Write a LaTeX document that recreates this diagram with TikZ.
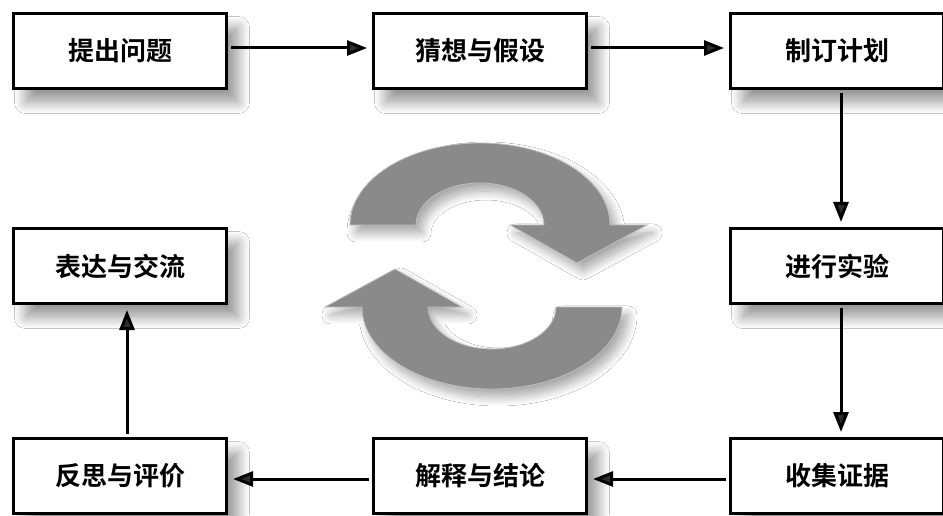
\documentclass[tikz,border=0pt]{standalone}
\usepackage{fontspec}
\newfontfamily\cjk{Noto Sans CJK SC Bold}
\usetikzlibrary{arrows.meta,shadows.blur,calc}
\definecolor{ringgray}{RGB}{138,138,138}
\begin{document}
\begin{tikzpicture}[x=1pt,y=1pt,
  stepbox/.style={draw=black, line width=3pt, fill=white, minimum width=213pt, minimum height=75pt,
    inner sep=0pt, font=\cjk\fontsize{26}{26}\selectfont,
    blur shadow={shadow xshift=12pt, shadow yshift=-14pt, shadow blur radius=11pt, shadow opacity=40, shadow blur steps=12}},
  flow/.style={line width=3pt, -{Triangle[length=20pt,width=15pt]}, shorten >=5pt, shorten <=3pt},
  ring/.style={fill=ringgray, draw=gray!50, line width=0.8pt,
    blur shadow={shadow xshift=6pt, shadow yshift=-8pt, shadow blur radius=9pt, shadow opacity=35, shadow blur steps=12}}
]
\useasboundingbox (0,0) rectangle (943,515);
\fill[white] (0,0) rectangle (943,515);

% boxes
\node[stepbox] (b1) at (120,464) {提出问题};
\node[stepbox] (b2) at (480,464) {猜想与假设};
\node[stepbox] (b3) at (837,464) {制订计划};
\node[stepbox] (b4) at (837,249) {进行实验};
\node[stepbox] (b5) at (837,39) {收集证据};
\node[stepbox] (b6) at (480,39) {解释与结论};
\node[stepbox] (b7) at (120,39) {反思与评价};
\node[stepbox] (b8) at (120,249) {表达与交流};

% central cycle arrows
\path[ring] (350,290) arc[start angle=180, end angle=0, x radius=130, y radius=82]
  -- (647,290) -- (577,252) -- (510,290) -- (544,290)
  arc[start angle=0, end angle=180, x radius=64, y radius=42] -- cycle;
\path[ring] (622,208) arc[start angle=0, end angle=-180, x radius=130, y radius=82]
  -- (325,208) -- (395,246) -- (462,208) -- (428,208)
  arc[start angle=180, end angle=360, x radius=64, y radius=42] -- cycle;

% connectors
\draw[flow] ($(b1.east)+(0,3)$) -- ($(b2.west)+(0,3)$);
\draw[flow] ($(b2.east)+(0,3)$) -- ($(b3.west)+(0,3)$);
\draw[flow] ($(b3.south)+(4,0)$) -- ($(b4.north)+(4,0)$);
\draw[flow] ($(b4.south)+(4,0)$) -- ($(b5.north)+(4,0)$);
\draw[flow] ($(b5.west)+(0,-3)$) -- ($(b6.east)+(0,-3)$);
\draw[flow] ($(b6.west)+(0,-3)$) -- ($(b7.east)+(0,-3)$);
\draw[flow] ($(b7.north)+(7,0)$) -- ($(b8.south)+(7,0)$);
\end{tikzpicture}
\end{document}
